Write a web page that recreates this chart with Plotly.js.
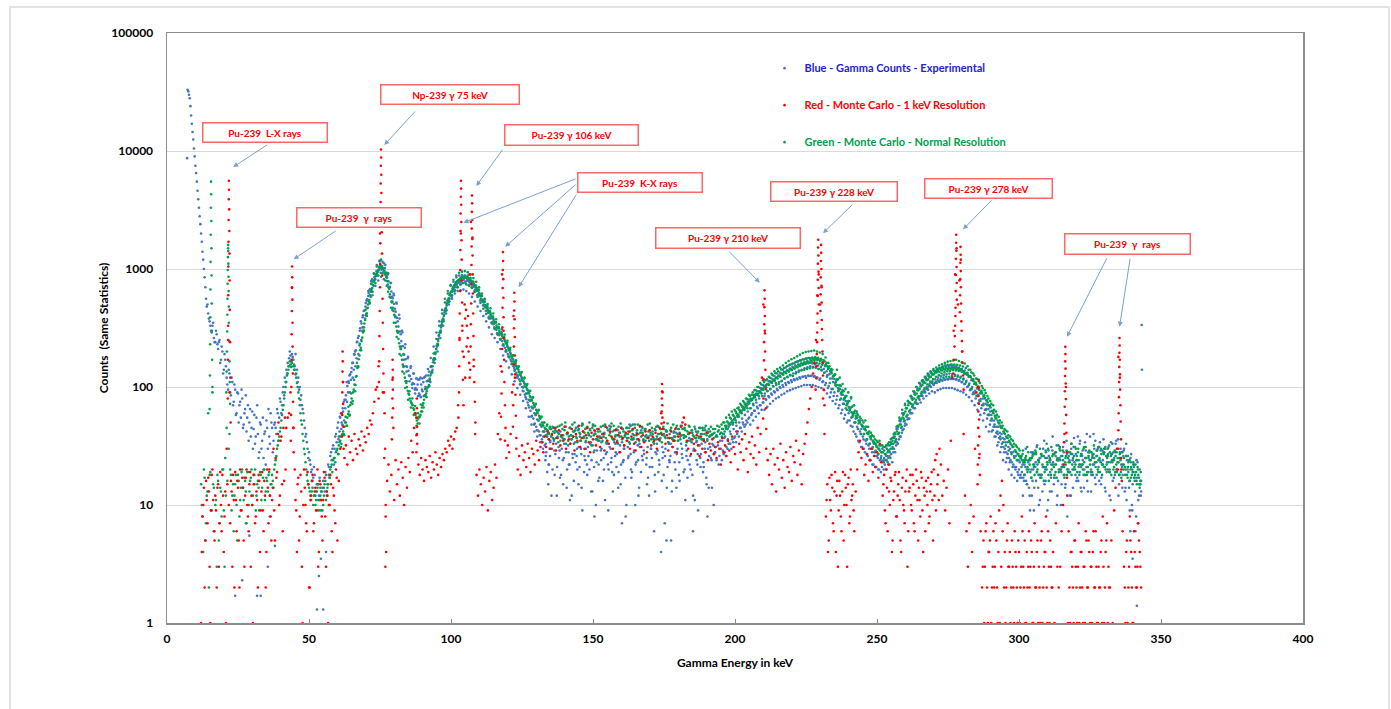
<!DOCTYPE html>
<html>
<head>
<meta charset="utf-8">
<script src="https://cdn.plot.ly/plotly-3.0.1.min.js"></script>
<style>
  html, body { margin:0; padding:0; background:#fff; width:1391px; height:709px; overflow:hidden; }
  #frame { position:absolute; left:9px; top:6px; width:1377px; height:740px; border:2px solid #e2e2e2; }
  #chart { position:absolute; left:0; top:0; width:1391px; height:709px; }
</style>
</head>
<body>
<div id="frame"></div>
<div id="chart"></div>
<script>
// ===================== DATA =====================
// Each row: [start energy keV, counts every 0.5 keV ...]
const STEP = 0.5;

// Blue – gamma counts, experimental
const blueRows = [
  [7.5, 32000,28000,20000,14500,10500,7500,5500,3900,2800,2000,1400,1000,700,480,420],
  [15, 360,300,330,260,240,280],
  [18, 210,250,170,200,140,170,120,95,130,85],
  [23, 110,75,95,60,88,70,55,80,48,65],
  [28, 42,70,50,38,62,44,33,55,40,28],
  [33, 48,35,25,42,52,30,38,60,45,35],
  [38, 50,40,60,55,75,70,100,120,140,160],
  [43, 175,185,190,170,150,130,110,95,78,70],
  [48, 60,45,40,30,28,22,20,17,18,13],
  [53, 15,12,14,11,16,13,18,15,21,26],
  [58, 24,32,30,40,45,38,55,50,62,78],
  [63, 85,102,108,128,145,160,188,205,242,270],
  [68, 315,345,405,445,515,555,625,675,745,785],
  [73, 855,895,945,975,1015,985,1000,955,925,845],
  [78, 785,705,645,565,505,435,385,325,295,245],
  [83, 222,188,172,148,137,124,117,108,106,98],
  [88, 95,115,85,105,92,120,100,112,125,118],
  [93, 150,140,175,190,220,245,290,320,360,400],
  [98, 440,490,520,560,600,640,670,700,730,760],
  [103, 770,790,760,810,780,790,795,770,745,730],
  [108, 705,670,650,610,590,555,530,495,475,445],
  [113, 425,395,380,355,340,315,305,285,275,255],
  [118, 245,225,215,200,190,178,170,158,150,140],
  [123, 132,122,116,106,100,92,86,79,74,67],
  [128, 63,57,54,49,46,43,42,39,36,38],
  [133, 32,28,40,22,35,30,45,18,33,38],
  [138, 25,42,30,15,36,28,40,22,33,12],
  [143, 38,27,45,20,31,35,14,42,26,30],
  [148, 18,40,33,24,47,29,10,36,22,38],
  [153, 30,16,41,27,35,20,44,25,13,34],
  [158, 28,39,19,32,45,23,30,8,37,26],
  [163, 33,17,40,29,22,36,12,31,43,24],
  [168, 27,35,15,38,21,30,42,6,28,33],
  [173, 19,36,4,25,40,30,14,34,23,5],
  [178, 31,38,20,27,44,16,33,25,39,11],
  [183, 29,35,22,41,18,30,37,24,9,32],
  [188, 27,40,21,34,15,30,38,25,33,10],
  [193, 28,24,32,26,30,35,27,38,31,36],
  [198, 33,40,36,44,38,47,42,50,45,54],
  [203, 48,58,52,62,55,66,60,70,63,74],
  [208, 66,80,70,84,74,88,78,93,82,96],
  [213, 86,101,90,104,94,110,98,113,100,118],
  [218, 104,121,108,126,110,130,114,134,116,138],
  [223, 118,140,122,144,120,147,124,150,125,148],
  [228, 124,146,120,142,118,138,112,132,108,126],
  [233, 102,118,96,110,90,102,84,94,78,86],
  [238, 72,80,66,72,60,66,55,60,50,54],
  [243, 46,49,42,44,38,40,35,36,32,33],
  [248, 30,31,28,29,26,27,24,26,23,25],
  [253, 24,26,25,28,27,31,30,35,34,40],
  [258, 38,45,43,51,49,57,54,63,60,69],
  [263, 66,75,72,82,78,88,84,94,90,100],
  [268, 95,106,100,112,104,116,108,120,111,123],
  [273, 113,126,115,128,116,130,117,129,117,127],
  [278, 116,125,114,122,110,118,106,113,101,107],
  [283, 96,100,90,93,84,86,77,79,70,72],
  [288, 64,65,58,58,52,52,46,46,41,40],
  [293, 37,36,33,31,30,28,27,25,24,23],
  [298, 22,21,21,19,20,18,19,17,18,16],
  [303, 19,14,24,12,20,27,16,22,10,25],
  [308, 18,30,15,21,9,26,19,13,23,17],
  [313, 28,12,20,24,15,31,18,22,8,26],
  [318, 19,33,14,23,27,17,21,35,13,24],
  [323, 20,29,16,25,38,18,22,30,15,26],
  [328, 21,34,17,24,28,13,23,31,19,27],
  [333, 16,25,33,20,12,28,22,18,30,14],
  [338, 24,19,9,27,15,21,6,17,11,20],
  [343, 13]
];
// second set of blue channels, offset by 0.25 keV
const blueRowsOffset = [
  [7.25, 33000,30000,24000,17000,12500,9000,6500,4600,3300,2400,1700,1200],
  [13.25, 850,560,500,380,330,290,350,240,300,230],
  [18.25, 240,160,220,130,190,150,105,140,90,120],
  [23.25, 70,105,58,90,50,75,95,45,60,85],
  [28.25, 55,35,65,45,30,58,38,70,25,50],
  [33.25, 30,55,40,22,45,65,33,50,28,48],
  [38.25, 45,65,35,80,60,90,85,110,130,150],
  [43.25, 200,165,180,155,190,140,120,100,85,65],
  [48.25, 52,38,34,25,24,19,16,21,12,15],
  [53.25, 11,17,13,9,14,19,12,22,17,28],
  [58.25, 30,22,38,34,50,42,60,48,75,66],
  [63.25, 110,90,125,115,160,140,200,175,260,225],
  [68.25, 360,300,440,380,540,470,660,580,820,720],
  [73.25, 820,960,880,1050,930,1060,950,1020,880,900],
  [78.25, 700,760,580,620,460,520,360,410,280,300],
  [83.25, 190,215,150,175,125,145,105,130,95,118],
  [88.25, 105,88,120,95,110,85,125,100,135,110],
  [93.25, 135,170,160,210,200,270,260,340,330,430],
  [98.25, 420,520,500,600,580,680,650,740,700,800],
  [103.25, 740,830,760,850,750,820,730,800,700,770],
  [108.25, 650,720,600,660,540,600,490,545,440,490],
  [113.25, 390,440,350,390,320,355,285,320,255,290],
  [118.25, 225,255,200,228,182,205,165,185,145,165],
  [123.25, 120,140,105,122,93,108,82,96,70,84],
  [128.25, 56,66,48,58,43,52,39,47,34,42],
  [133.25, 24,38,15,30,44,20,35,27,12,41],
  [138.25, 29,18,37,25,46,14,32,22,39,27],
  [143.25, 16,34,26,43,21,30,9,37,24,45],
  [148.25, 31,20,38,13,28,42,23,35,17,29],
  [153.25, 40,25,11,33,22,47,30,19,36,26],
  [158.25, 21,43,28,15,34,24,39,10,31,45],
  [163.25, 27,19,36,48,23,32,14,41,26,35],
  [168.25, 44,22,31,12,39,25,34,18,46,29],
  [173.25, 24,37,16,28,7,43,21,33,26,13],
  [178.25, 35,23,41,30,18,38,27,44,20,32],
  [183.25, 17,40,26,34,12,29,42,22,37,25],
  [188.25, 33,19,45,28,36,14,31,24,40,27],
  [193.25, 31,38,22,35,41,29,37,26,44,33],
  [198.25, 42,30,48,37,52,40,58,45,62,50],
  [203.25, 66,48,70,54,76,58,80,63,86,68],
  [208.25, 88,70,95,74,100,79,105,84,112,88],
  [213.25, 112,92,118,96,124,100,130,104,134,108],
  [218.25, 138,110,143,114,148,116,152,118,155,121],
  [223.25, 158,122,160,124,162,125,160,124,158,122],
  [228.25, 155,118,152,115,148,110,142,104,136,98],
  [233.25, 128,90,118,84,108,78,98,70,88,64],
  [238.25, 78,58,70,52,63,47,56,42,50,38],
  [243.25, 44,34,40,31,36,28,33,26,30,24],
  [248.25, 28,22,26,21,25,20,24,21,24,22],
  [253.25, 26,23,29,25,33,28,38,32,44,36],
  [258.25, 51,41,58,47,66,53,74,60,82,67],
  [263.25, 90,73,98,80,106,86,114,92,120,98],
  [268.25, 126,102,131,106,136,110,140,112,143,114],
  [273.25, 145,116,147,117,148,118,148,117,147,116],
  [278.25, 144,113,140,110,135,106,129,100,122,94],
  [283.25, 114,87,106,80,97,73,88,66,80,60],
  [288.25, 72,54,65,48,58,43,52,38,46,34],
  [293.25, 41,31,37,28,34,25,31,23,28,21],
  [298.25, 26,20,24,18,23,17,22,16,21,15],
  [303.25, 23,12,28,16,9,21,31,14,25,18],
  [308.25, 13,26,20,33,11,24,17,29,15,22],
  [313.25, 32,16,25,10,21,28,14,35,19,24],
  [318.25, 12,27,20,31,16,38,22,14,26,18],
  [323.25, 34,21,13,28,19,25,40,17,23,30],
  [328.25, 16,29,22,36,14,26,20,32,11,24],
  [333.25, 28,18,35,23,15,30,21,26,13,33],
  [338.25, 20,14,25,10,22,17,8,23,12,16]
];
// third set of blue channels (offset 0.375 keV) where the band is widest
const blueRowsScatter = [
  [60.375, 36,56,44,66,52,78,75,112,90,134],
  [65.375, 120,190,150,240,190,300,250,390,320,480],
  [70.375, 420,650,510,790,600,920,720,1080,800,1160],
  [75.375, 860,1150,820,1080,720,920,580,760,450,600],
  [80.375, 390,510,290,380,220,290,170,230,135,180],
  [85.375, 112,150,98,130,88,118,84,116,82,118],
  [90.375, 84,122,96,142,112,176,150,220,195,290],
  [95.375, 230,360,300,450,370,560,450,650,530,730],
  [100.375, 560,780,620,850,650,880,660,890,670,880],
  [105.375, 650,880,620,840,580,780,530,700,480,630],
  [110.375, 440,590,400,530,360,470,320,420,280,380],
  [115.375, 260,350,240,315,210,280,185,250,165,220],
  [120.375, 146,196,128,172,112,152,98,134,86,116],
  [125.375, 76,102,66,88,56,76,48,66,42,58],
  [130.375, 38,52,34,46,30,42,26,38,22,34],
  [133.375, 33,19,41,26,12,37,29,45,21,31],
  [138.375, 17,39,24,33,46,20,28,11,36,25],
  [143.375, 42,23,30,15,38,27,48,19,34,22],
  [148.375, 26,44,13,32,21,40,29,16,37,24],
  [153.375, 35,20,46,28,9,31,23,42,18,33],
  [158.375, 27,14,38,22,44,30,17,35,25,48],
  [163.375, 20,36,28,10,41,24,33,19,45,29],
  [168.375, 38,25,17,43,30,21,36,13,27,40],
  [173.375, 22,44,31,18,26,5,37,24,33,16],
  [178.375, 41,28,14,35,23,47,30,19,38,26],
  [183.375, 24,37,20,43,29,11,34,27,45,21],
  [188.375, 36,23,30,17,42,26,39,14,32,28],
  [195.375, 24,40,28,44,30,48,33,50,34,54],
  [200.375, 34,56,38,62,42,68,46,72,50,78],
  [205.375, 48,78,52,86,56,92,60,98,64,104],
  [210.375, 64,104,68,112,72,118,76,124,80,130],
  [215.375, 82,132,86,140,88,146,92,152,94,156],
  [220.375, 96,158,98,164,100,168,102,172,104,174],
  [225.375, 104,176,104,176,104,174,102,172,100,168],
  [230.375, 98,162,94,154,88,146,82,136,76,126],
  [235.375, 72,116,66,104,60,94,54,84,50,76],
  [240.375, 52,80,46,70,40,60,35,52,31,47],
  [245.375, 30,46,27,41,24,36,22,33,21,31],
  [250.375, 20,32,19,30,20,31,20,32,22,34],
  [255.375, 23,38,28,44,33,52,38,60,44,70],
  [260.375, 48,76,54,84,60,92,66,100,72,108],
  [265.375, 74,112,80,120,84,126,88,132,92,138],
  [270.375, 90,138,94,144,96,148,98,152,98,154],
  [275.375, 98,154,98,152,96,150,94,146,92,142],
  [280.375, 90,138,86,132,82,124,76,116,70,106],
  [285.375, 64,98,58,90,52,80,46,70,42,62],
  [290.375, 42,62,38,54,32,46,28,40,24,36],
  [295.375, 23,34,20,30,18,28,17,26,16,24],
  [300.375, 17,26,12,22,30,15,24,9,20,28],
  [305.375, 14,23,32,18,11,27,21,35,16,25],
  [310.375, 29,13,22,38,17,26,10,24,31,19],
  [315.375, 22,34,15,27,20,12,30,24,37,18],
  [320.375, 26,16,33,21,29,14,25,40,19,28],
  [325.375, 13,27,22,35,18,31,24,15,29,21],
  [330.375, 30,19,26,12,34,23,17,28,20,36],
  [335.375, 18,25,14,29,21,11,26,16,23,9],
  [340.375, 19,13,24,7,15,12]
];
// Isolated blue points: [keV, counts]
const blueExtra = [
  [7.1,8700],[24.0,1.7],[26.5,2.3],[31.7,1.7],[33.0,1.7],[35.5,3.0],[29.0,5.5],[27.8,7.0],
  [36.2,8.0],[38.0,4.5],[52.8,1.3],[53.5,2.5],[54.2,3.5],[55.0,1.3],[56.0,4.0],
  [341.5,1.4],[343.2,335],[343.3,140],[340.0,3.5],[339.2,6],[150.5,8],[160.2,7],[185.2,6],[190.3,8]
];

// Green – Monte Carlo, normal resolution
const greenRows = [
  [12, 15,8,20,5,12,60,18,9,100,14],
  [17, 10,3,16,7,13,20,9,25,45,1500],
  [22, 40,18,12,6,15,10,18,8,14,20],
  [27, 11,16,7,19,13,17,10,15,20,12],
  [32, 16,9,18,14,20,11,17,13,19,15],
  [37, 18,14,22,26,32,38,45,58,70,90],
  [42, 110,130,150,155,160,150,140,120,100,80],
  [47, 60,48,35,27,20,16,14,12,13,10],
  [52, 12,11,14,9,12,13,10,15,11,14],
  [57, 18,20,22,24,25,28,30,32,35,39],
  [62, 42,46,50,55,62,70,80,90,105,122],
  [67, 145,172,205,245,290,345,405,465,530,600],
  [72, 665,735,800,870,930,990,1040,1060,1020,960],
  [77, 880,790,700,610,530,470,410,350,300,255],
  [82, 220,185,155,130,112,100,88,80,74,70],
  [87, 64,58,52,54,56,62,70,78,85,92],
  [92, 100,115,130,150,170,195,225,255,290,330],
  [97, 370,410,460,505,550,600,640,680,720,750],
  [102, 780,800,820,835,845,850,850,845,835,820],
  [107, 800,775,750,720,690,655,620,585,550,520],
  [112, 495,470,450,430,410,390,370,350,332,315],
  [117, 300,285,272,260,245,232,218,204,190,177],
  [122, 165,155,150,142,134,126,119,112,106,100],
  [127, 94,88,82,77,73,68,64,60,57,54],
  [132, 50,47,45,44,43,40,44,39,42,41],
  [137, 37,46,40,35,48,39,43,33,41,38],
  [142, 45,36,42,50,38,34,44,40,47,37],
  [147, 41,35,46,39,43,32,48,40,36,44],
  [152, 38,42,34,47,40,37,45,33,41,49],
  [157, 36,43,39,35,46,41,38,44,32,40],
  [162, 45,37,42,36,48,39,34,43,40,46],
  [167, 38,41,35,44,37,42,49,36,40,33],
  [172, 43,38,46,35,41,39,44,37,42,34],
  [177, 40,45,36,42,38,47,35,41,39,44],
  [182, 37,43,34,40,46,36,41,38,44,35],
  [187, 42,37,40,45,36,43,39,41,38,46],
  [192, 40,37,44,39,42,46,41,44,40,47],
  [197, 47,50,49,54,52,57,55,60,58,64],
  [202, 63,68,66,71,69,75,73,80,78,85],
  [207, 82,88,86,92,90,97,95,101,99,106],
  [212, 104,110,108,115,113,120,118,125,122,130],
  [217, 127,134,131,138,135,142,139,146,143,150],
  [222, 147,154,151,158,155,162,158,166,162,170],
  [227, 166,172,168,174,169,172,166,170,162,165],
  [232, 156,150,145,137,131,123,117,110,104,97],
  [237, 96,90,86,80,76,72,68,64,61,58],
  [242, 60,57,55,52,50,48,46,44,43,41],
  [247, 40,38,38,35,34,33,31,30,29,28],
  [252, 28,29,27,30,29,32,33,35,37,40],
  [257, 42,46,48,53,55,60,62,66,70,74],
  [262, 72,78,80,86,88,94,96,102,104,110],
  [267, 108,114,116,121,122,127,128,132,133,137],
  [272, 134,139,138,142,140,144,141,145,142,146],
  [277, 143,145,141,144,139,141,135,136,130,131],
  [282, 127,124,121,116,112,107,104,98,95,90],
  [287, 88,84,81,77,74,70,67,63,60,57],
  [292, 55,52,49,47,45,42,40,38,37,35],
  [297, 33,32,31,29,28,27,26,25,24,23],
  [302, 23,26,21,24,19,25,22,18,27,20],
  [307, 23,17,26,21,19,28,22,16,24,20],
  [312, 27,18,22,25,19,29,21,24,17,26],
  [317, 20,23,28,18,25,21,30,19,24,22],
  [322, 27,20,23,31,19,26,22,28,18,25],
  [327, 21,29,24,19,27,22,30,20,25,23],
  [332, 28,18,24,21,26,19,23,27,17,22],
  [337, 25,20,18,23,16,21,19,17,22,15],
  [342, 18,14,16]
];
// second set of green channels, offset by 0.25 keV
const greenRowsOffset = [
  [12.25, 10,4,17,7,13,2,19,9,15,6],
  [17.25, 11,18,5,14,8,20,3,12,16,30],
  [22.25, 20,9,15,12,18,5,16,11,19,14],
  [27.25, 17,13,19,10,16,20,12,18,9,15],
  [32.25, 14,19,11,17,20,13,16,18,12,15],
  [37.25, 16,20,24,30,35,42,52,64,80,100],
  [42.25, 125,140,165,148,170,140,128,108,90,70],
  [47.25, 52,40,30,23,18,15,13,11,14,12],
  [52.25, 10,13,15,11,9,14,12,16,13,15],
  [57.25, 17,21,19,25,23,29,27,34,31,40],
  [62.25, 40,50,47,59,57,74,72,95,92,124],
  [67.25, 150,185,215,262,300,370,420,500,545,640],
  [72.25, 690,780,820,910,950,1030,1070,1020,1000,910],
  [77.25, 850,740,680,570,520,440,400,325,290,235],
  [82.25, 210,170,148,120,108,93,86,76,72,66],
  [87.25, 60,55,49,56,58,67,73,84,88,99],
  [92.25, 104,125,134,162,175,210,232,275,300,355],
  [97.25, 380,445,470,540,565,625,650,700,730,770],
  [102.25, 790,805,830,860,840,870,845,860,825,830],
  [107.25, 785,780,730,725,670,670,600,590,530,525],
  [112.25, 480,475,435,430,395,395,355,355,320,320],
  [117.25, 290,290,262,265,236,238,210,210,182,185],
  [122.25, 158,160,144,148,128,132,113,118,100,104],
  [127.25, 90,92,78,81,70,71,61,63,55,56],
  [132.25, 48,50,44,47,41,45,38,46,36,43],
  [137.25, 42,34,47,38,44,36,50,40,35,45],
  [142.25, 39,48,33,43,37,46,41,35,49,38],
  [147.25, 44,37,41,50,34,45,39,47,36,42],
  [152.25, 35,46,40,38,48,34,43,39,46,37],
  [157.25, 47,38,44,33,41,49,36,42,38,45],
  [162.25, 40,34,47,43,37,45,39,48,35,41],
  [167.25, 46,36,43,39,48,35,41,45,37,44],
  [172.25, 36,47,40,44,34,46,38,42,49,37],
  [177.25, 43,37,48,35,45,40,44,36,47,39],
  [182.25, 45,38,42,47,35,43,39,46,37,41],
  [187.25, 38,45,36,43,40,47,35,44,42,39],
  [192.25, 44,41,38,47,43,40,48,44,50,45],
  [197.25, 51,46,55,50,58,53,62,57,67,61],
  [202.25, 70,64,74,68,79,72,84,77,90,82],
  [207.25, 94,86,100,91,105,96,110,101,116,106],
  [212.25, 120,110,126,115,131,120,136,124,141,129],
  [217.25, 145,133,150,137,154,141,158,145,162,148],
  [222.25, 165,151,168,154,171,157,174,159,176,161],
  [227.25, 178,160,179,160,177,158,173,154,168,150],
  [232.25, 160,142,150,133,140,124,128,114,116,103],
  [237.25, 102,91,92,82,84,74,76,67,68,61],
  [242.25, 63,55,58,51,54,47,50,44,46,40],
  [247.25, 42,37,39,34,36,32,34,30,32,28],
  [252.25, 31,27,32,28,34,30,37,33,41,36],
  [257.25, 47,41,53,46,59,52,66,58,73,64],
  [262.25, 80,71,87,78,94,84,101,91,109,98],
  [267.25, 117,105,124,111,130,117,136,122,141,126],
  [272.25, 144,130,148,133,151,136,153,137,155,139],
  [277.25, 155,138,154,137,152,135,149,131,145,127],
  [282.25, 140,122,133,116,125,109,117,101,108,93],
  [287.25, 98,85,89,77,80,69,72,62,64,55],
  [292.25, 58,50,52,45,47,41,43,37,39,34],
  [297.25, 36,31,33,29,31,27,29,25,27,24],
  [302.25, 25,20,28,22,17,26,21,29,19,24],
  [307.25, 18,27,22,16,25,20,30,23,18,26],
  [312.25, 21,28,17,24,30,20,26,18,23,29],
  [317.25, 25,19,27,22,31,20,24,28,18,26],
  [322.25, 22,30,18,25,21,29,24,19,27,23],
  [327.25, 26,20,31,23,18,28,21,26,30,19],
  [332.25, 23,27,20,29,22,25,18,24,28,20],
  [337.25, 21,26,17,24,20,18,23,16,19,21],
  [342.25, 17,15]
];
// third set of green channels (offset 0.375 keV) where the band is widest
const greenRowsScatter = [
  [60.375, 27,38,33,47,39,56,47,68,58,88],
  [65.375, 76,115,104,160,148,232,205,320,300,450],
  [70.375, 400,590,520,750,640,910,760,1050,880,1180],
  [75.375, 1200,920,1120,800,930,640,700,470,530,350],
  [80.375, 400,265,295,190,210,135,150,98,112,78],
  [85.375, 92,67,80,58,69,47,60,49,71,62],
  [90.375, 67,96,82,113,102,148,133,192,172,255],
  [95.375, 225,330,290,420,360,520,445,620,530,720],
  [100.375, 600,810,660,880,700,930,740,950,760,960],
  [105.375, 740,940,720,900,690,840,640,780,580,700],
  [110.375, 515,620,460,560,415,505,380,465,345,420],
  [115.375, 310,375,278,340,252,308,230,278,205,246],
  [120.375, 180,215,156,186,137,168,126,150,112,134],
  [125.375, 99,120,88,106,78,93,68,82,60,72],
  [130.375, 53,64,48,56,42,50,39,48,36,46],
  [195.375, 38,50,42,55,44,58,48,62,50,64],
  [200.375, 50,66,56,72,60,76,64,80,66,86],
  [205.375, 66,86,72,94,78,100,84,108,88,114],
  [210.375, 84,114,92,122,96,130,102,136,108,142],
  [215.375, 106,146,112,152,118,160,122,166,126,172],
  [220.375, 124,176,130,182,134,188,138,194,140,198],
  [225.375, 142,200,144,202,146,204,146,200,142,196],
  [230.375, 140,190,132,178,122,160,108,142,96,126],
  [235.375, 104,140,92,120,80,106,72,96,64,90],
  [240.375, 66,82,56,70,50,62,44,56,40,52],
  [245.375, 40,52,36,46,33,41,30,38,28,35],
  [250.375, 27,35,25,32,23,31,24,33,26,36],
  [255.375, 30,40,34,46,40,55,48,64,54,72],
  [260.375, 56,76,62,84,68,92,74,100,82,108],
  [265.375, 84,114,90,122,96,130,102,136,108,142],
  [270.375, 108,146,114,152,116,156,120,160,122,164],
  [275.375, 122,166,124,168,124,170,122,166,120,162],
  [280.375, 116,158,110,150,104,140,96,130,88,118],
  [285.375, 84,112,76,102,70,94,64,84,58,76],
  [290.375, 54,70,48,62,42,56,38,50,34,44],
  [295.375, 32,42,29,38,27,35,25,32,24,30],
  [300.375, 26,21,29,18,24,31,20,25,17,27],
  [305.375, 22,28,19,24,30,17,26,21,29,23],
  [310.375, 18,25,31,22,27,19,24,32,20,26],
  [315.375, 29,21,25,18,28,23,33,20,26,22],
  [320.375, 24,30,19,27,22,31,25,18,28,24],
  [325.375, 20,26,32,23,29,19,25,30,22,27],
  [330.375, 31,22,27,20,26,33,24,19,28,23],
  [335.375, 25,19,28,22,18,26,21,24,17,20],
  [340.375, 22,18,16,20,15,19]
];
// green narrow lines: [keV, counts]
const greenPeaks = [
  [[15.50,5500],[15.55,4300],[15.45,3300],[15.60,2550],[15.40,1950],[15.65,1500],[15.35,1150],[15.70,880],
   [15.30,670],[15.75,510],[15.25,390],[15.80,300],[15.20,230],[15.90,170],[15.10,125],[16.00,90],[15.00,65]],
  [[21.50,1600],[21.55,1420],[21.45,1260],[21.60,1110],[21.40,980],[21.65,860],[21.35,750],[21.70,650],
   [21.30,560],[21.75,480],[21.25,410],[21.80,350],[21.20,295],[21.90,245],[21.10,200],[22.00,165],
   [21.00,135],[22.10,110],[20.90,90],[22.20,72]]
];

// Red – Monte Carlo, 1 keV resolution
const redRows = [
  [12, 1,8,14,5,11,17,3,9,20,6],
  [17, 12,2,15,7,10,18,4,13,30,250],
  [22, 90,16,3,11,19,6,14,2,9,17],
  [27, 5,12,20,8,15,3,10,18,7,13],
  [32, 2,16,9,19,6,12,4,14,20,8],
  [37, 11,30,5,17,40,10,35,15,45,55],
  [42, 45,55,60,90,700,45,20,9,15,5],
  [47, 18,3,10,14,7,19,2,11,16,6],
  [52, 13,9,20,4,15,8,11,17,3,12],
  [57, 10,18,6,14,9,20,5,16,30,60],
  [62, 110,25,32,22,38,28,35,24,40,30],
  [67, 27,36,32,42,29,38,34,45,40,52],
  [72, 48,60,75,95,100,150,2000,3000,90,25],
  [77, 8,16,22,13,18,120,11,24,15,20],
  [82, 12,23,17,10,21,14,25,19,35,28],
  [87, 45,60,40,22,18,25,20,16,24,21],
  [92, 19,26,17,23,20,28,22,18,25,21],
  [97, 27,24,30,28,35,32,38,30,36,42],
  [102, 45,70,250,2000,300,180,120,220,400,900],
  [107, 2500,1800,150,40,18,12,20,15,10,17],
  [112, 13,21,9,16,19,11,14,22,17,40],
  [117, 60,150,900,300,35,25,32,28,40,90],
  [122, 400,120,30,20,26,18,32,24,28,21],
  [127, 33,25,19,30,27,22,35,29,24,31],
  [132, 34,28,38,31,42,36,30,40,33,45],
  [137, 29,37,43,32,39,35,46,30,41,36],
  [142, 33,44,38,29,40,35,47,31,37,42],
  [147, 30,39,45,34,28,41,36,43,32,38],
  [152, 44,31,37,40,29,46,35,33,42,38],
  [157, 30,36,43,34,39,28,45,37,32,41],
  [162, 35,42,30,38,44,33,29,40,36,47],
  [167, 31,39,34,42,28,37,43,32,38,35],
  [172, 41,30,36,45,60,90,50,33,39,29],
  [177, 37,42,31,35,44,28,38,40,46,50],
  [182, 55,48,35,30,41,27,36,33,29,39],
  [187, 32,26,38,30,35,28,41,24,33,29],
  [192, 36,27,31,25,34,30,22,37,28,32],
  [197, 26,35,29,23,38,31,27,42,20,33],
  [202, 28,36,24,40,30,19,34,27,38,25],
  [207, 32,22,45,28,40,120,500,300,30,24],
  [212, 18,27,15,30,22,13,25,20,33,17],
  [217, 24,14,28,21,19,31,16,26,23,35],
  [222, 18,29,22,15,27,33,40,50,65,80],
  [227, 100,130,160,250,600,900,500,700,80,40],
  [232, 8,15,5,11,18,7,13,4,16,9],
  [237, 12,6,19,10,14,3,17,8,11,15],
  [242, 6,13,20,28,35,25,30,18,22,27],
  [247, 16,24,30,19,26,21,28,17,33,23],
  [252, 12,18,7,14,22,10,16,5,13,19],
  [257, 8,15,11,4,17,9,13,20,6,14],
  [262, 10,18,7,12,16,5,11,19,9,14],
  [267, 6,13,17,8,15,11,20,24,27,18],
  [272, 30,22,12,16,9,14,20,7,35,120],
  [277, 300,900,1500,500,800,1200,200,40,12,6],
  [282, 3,7,10,4,8,30,90,100,25,6],
  [287, 2,5,3,7,1,4,8,2,6,3],
  [292, 5,1,9,12,16,10,4,2,7,3],
  [297, 1,5,2,6,3,1,4,2,8,3],
  [302, 5,1,2,6,3,4,1,7,2,5],
  [307, 3,1,6,2,4,8,1,3,5,2],
  [312, 4,1,7,3,2,3,6,10,40,100],
  [317, 12,6,1,4,2,5,3,1,7,2],
  [322, 4,1,3,6,2,5,1,3,4,2],
  [327, 6,1,3,2,5,8,1,4,7,3],
  [332, 2,5,1,9,14,30,180,120,20,6],
  [337, 3,1,5,2,8,4,1,6,3,2],
  [342, 7,4,2]
];
// second set of red channels, offset by 0.25 keV
const redRowsOffset = [
  [12.25, 4,10,2,16,7,13,1,18,11,5],
  [17.25, 9,14,3,19,6,12,8,1,15,10],
  [22.25, 7,13,18,2,11,16,5,20,9,14],
  [27.25, 3,17,10,6,19,12,1,15,8,11],
  [32.25, 18,4,13,9,16,2,20,7,12,5],
  [37.25, 14,9,25,19,50,12,38,6,16,20],
  [45.25, 11,4,17,8,13,1,20,10,6,15],
  [50.25, 2,12,18,7,14,9,3,16,11,5],
  [55.25, 19,8,13,1,10,15,4,12,7,17],
  [232.25, 11,4,17,9,14,6,19,12,3,16],
  [237.25, 8,13,5,18,10,15,7,20,12,9],
  [252.25, 15,9,20,6,13,17,4,11,18,8],
  [257.25, 12,19,5,14,10,7,16,3,13,18],
  [262.25, 9,15,6,20,11,14,8,17,4,12],
  [267.25, 16,10,7,13,19,5,12,9,15,11],
  [287.25, 3,1,6,2,4,5,1,3,2,7],
  [292.25, 2,4,1,3,6,2,1,5,3,4],
  [297.25, 2,3,1,4,2,5,1,3,6,2],
  [302.25, 1,4,3,2,5,1,3,2,4,1],
  [307.25, 2,5,1,3,4,2,6,1,3,2],
  [317.25, 1,2,4,3,1,5,2,3,1,4],
  [322.25, 2,3,1,5,2,4,3,1,6,2],
  [327.25, 3,1,2,4,1,3,2,5,1,2],
  [337.25, 2,4,1,3,5,2,1,4,2,3],
  [342.25, 5,3]
];
// red narrow lines: [keV, counts]
const redPeaks = [
  [[21.80,5600],[21.85,4700],[21.75,3900],[21.90,3200],[21.70,2600],[21.95,2100],[21.65,1700],[22.00,1350],
   [21.60,1050],[22.05,800],[21.55,600],[22.10,450],[21.50,330],[22.20,240],[21.45,170],[22.30,120],[21.40,80],[22.40,50]],
  [[44.05,1050],[44.10,850],[44.00,690],[44.15,550],[43.95,440],[44.20,350],[43.90,280],[44.25,220],
   [43.85,170],[44.30,130],[43.80,100],[44.40,75],[43.70,58],[44.50,45],[43.60,35],[44.60,28]],
  [[61.85,200],[61.90,165],[61.80,135],[61.95,110],[61.75,90],[62.00,72],[61.70,58],[62.10,46],[61.60,38],[62.20,30]],
  [[75.35,10300],[75.40,8800],[75.30,7500],[75.45,6300],[75.25,5300],[75.50,4400],[75.20,3700],[75.55,3000],
   [75.15,2500],[75.60,2050],[75.10,1650],[75.70,1350],[75.05,1100],[75.80,880],[75.00,700],[75.90,560],
   [74.90,440],[76.00,350],[74.80,270],[76.10,210],[74.70,165],[76.20,130],[74.60,110],[76.40,90],
   [74.50,80],[76.60,60],[76.80,30],[77.00,10],[77.20,4],[76.90,3]],
  [[79.45,170],[79.50,140],[79.40,115],[79.55,95],[79.35,80],[79.60,66],[79.30,55],[79.70,45],[79.20,36]],
  [[87.95,80],[88.00,66],[87.90,55],[88.05,46],[87.85,39],[88.10,33],[87.80,28]],
  [[103.50,5600],[103.55,4800],[103.45,4100],[103.60,3500],[103.40,2950],[103.65,2500],[103.35,2100],[103.70,1750],
   [103.30,1450],[103.75,1200],[103.25,980],[103.80,800],[103.20,650],[103.90,520],[103.10,420],[104.00,330],
   [103.00,260],[104.10,200],[102.90,150],[104.20,115],[102.80,90],[104.40,70],[102.60,55],[104.80,500],[105.00,380]],
  [[107.40,4200],[107.45,3600],[107.35,3050],[107.50,2600],[107.30,2200],[107.55,1850],[107.25,1550],[107.60,1300],
   [107.20,1080],[107.65,900],[107.15,750],[107.70,620],[107.10,510],[107.80,420],[107.00,340],[107.90,270],
   [106.90,220],[108.00,170],[106.80,140],[108.20,110],[106.60,120],[108.40,75],[106.40,160],[108.60,50],
   [106.20,200],[105.90,260],[105.60,330],[105.30,450]],
  [[118.30,1390],[118.35,1170],[118.25,980],[118.40,820],[118.20,690],[118.45,570],[118.15,470],[118.50,390],
   [118.10,320],[118.60,260],[118.00,210],[118.70,170],[117.90,135],[118.80,110],[117.80,88],[119.00,70],
   [117.60,56],[119.20,45],[117.40,36]],
  [[122.30,630],[122.35,530],[122.25,445],[122.40,375],[122.20,315],[122.45,265],[122.15,220],[122.50,185],
   [122.10,155],[122.60,128],[122.00,105],[122.70,86],[121.90,70],[122.80,57],[121.80,46],[123.00,37]],
  [[174.30,106],[174.35,92],[174.25,80],[174.40,70],[174.20,62],[174.45,55],[174.15,49],[174.50,44],[174.10,40]],
  [[210.40,660],[210.45,560],[210.35,475],[210.50,400],[210.30,340],[210.55,285],[210.25,240],[210.60,200],
   [210.20,168],[210.70,140],[210.10,116],[210.80,96],[210.00,80],[210.90,66],[209.90,54],[211.00,44]],
  [[229.30,1770],[229.25,1520],[229.35,1300],[229.20,1110],[229.40,950],[229.15,810],[229.45,690],[229.10,590],
   [229.50,500],[229.05,420],[229.00,350],[228.95,290],[228.90,240],[228.80,190],[228.70,150],[228.60,120],[228.40,95],
   [230.30,1600],[230.35,1370],[230.25,1170],[230.40,1000],[230.20,850],[230.45,720],[230.15,610],[230.50,520],
   [230.10,440],[230.55,370],[230.60,310],[230.70,250],[230.80,200],[230.90,160],[231.00,125],[231.20,95],[231.50,70]],
  [[277.90,1950],[277.85,1670],[277.95,1430],[277.80,1220],[278.00,1040],[277.75,890],[278.05,760],[277.70,650],
   [278.10,550],[277.65,470],[277.60,400],[277.50,330],[277.40,270],[277.30,220],[277.10,170],[276.90,130],
   [279.40,1540],[279.45,1320],[279.35,1130],[279.50,960],[279.30,820],[279.55,700],[279.25,600],[279.60,510],
   [279.20,430],[279.70,360],[279.80,300],[279.90,245],[280.00,200],[280.10,160],[280.30,125],[280.50,95]],
  [[285.80,115],[285.85,98],[285.75,84],[285.90,72],[285.70,62],[285.95,53],[285.65,45],[286.00,38],
   [285.60,32],[286.10,27],[285.50,22],[286.20,18],[285.40,15]],
  [[316.30,219],[316.35,190],[316.25,165],[316.40,143],[316.20,124],[316.45,107],[316.15,92],[316.50,79],
   [316.10,68],[316.60,58],[316.00,49],[316.70,41],[315.90,34],[316.80,28],[315.80,22],[316.90,17]],
  [[335.40,260],[335.45,225],[335.35,195],[335.50,170],[335.30,148],[335.55,128],[335.25,110],[335.60,95],
   [335.20,82],[335.70,70],[335.10,60],[335.80,51],[335.00,43],[335.90,36],[334.90,30],[336.00,25],[334.80,20],[336.20,16]]
];

// Axis ticks
const xTicks = [0, 50, 100, 150, 200, 250, 300, 350, 400];
const yTicks = [1, 10, 100, 1000, 10000, 100000];
const yTickText = ['1', '10', '100', '1000', '10000', '100000'];

// Legend / series labels
const seriesNames = {
  blue: 'Blue - Gamma Counts - Experimental',
  red: 'Red - Monte Carlo - 1 keV Resolution',
  green: 'Green - Monte Carlo - Normal Resolution'
};

// Annotation labels
const labelTexts = [
  'Pu-239\u00a0\u00a0L-X rays', 'Np-239 \u03b3 75 keV', 'Pu-239\u00a0\u00a0\u03b3\u00a0\u00a0rays',
  'Pu-239 \u03b3 106 keV', 'Pu-239\u00a0\u00a0K-X rays', 'Pu-239 \u03b3 210 keV',
  'Pu-239 \u03b3 228 keV', 'Pu-239 \u03b3 278 keV', 'Pu-239\u00a0\u00a0\u03b3\u00a0\u00a0rays'
];

// ===================== BUILD =====================
function fromRows(rows, step, x, y) {
  rows.forEach(r => { for (let i = 1; i < r.length; i++) { x.push(r[0] + (i - 1) * step); y.push(r[i]); } });
}
function fromPairs(list, x, y) { list.forEach(p => { x.push(p[0]); y.push(p[1]); }); }

const bx = [], by = [];
fromRows(blueRows, STEP, bx, by); fromRows(blueRowsOffset, STEP, bx, by);
fromRows(blueRowsScatter, STEP, bx, by); fromPairs(blueExtra, bx, by);
const gx = [], gy = [];
fromRows(greenRows, STEP, gx, gy); fromRows(greenRowsOffset, STEP, gx, gy);
fromRows(greenRowsScatter, STEP, gx, gy);
greenPeaks.forEach(pk => fromPairs(pk, gx, gy));
const rx = [], ry = [];
fromRows(redRows, STEP, rx, ry); fromRows(redRowsOffset, STEP, rx, ry);
redPeaks.forEach(pk => fromPairs(pk, rx, ry));

const FONT = 'Lato, "Open Sans", "Liberation Sans", sans-serif';
const BLUE = '#4472c4', RED = '#ff0000', GREEN = '#00a04c';

const traces = [
  { type:'scatter', mode:'markers', x:bx, y:by, cliponaxis:false, hoverinfo:'skip',
    marker:{ size:2.6, color:BLUE }, legendgroup:'b', legendrank:1,
    name:'<span style="color:#2323d2">' + seriesNames.blue + '</span>' },
  { type:'scatter', mode:'markers', x:gx, y:gy, cliponaxis:false, hoverinfo:'skip',
    marker:{ size:2.6, color:GREEN }, legendgroup:'g', legendrank:3,
    name:'<span style="color:#00a04c">' + seriesNames.green + '</span>' },
  { type:'scatter', mode:'markers', x:rx, y:ry, cliponaxis:false, hoverinfo:'skip',
    marker:{ size:2.6, color:RED }, legendgroup:'r', legendrank:2,
    name:'<span style="color:#ff0000">' + seriesNames.red + '</span>' }
];

// label boxes: centre (keV, log10 counts) and pixel size
const boxes = [
  [34.6, 4.157, 126, 21], [99.75, 4.479, 140, 21], [67.7, 3.436, 126, 21],
  [142.6, 4.136, 135, 22], [166.7, 3.731, 126, 21], [197.6, 3.263, 146, 22],
  [235.0, 3.655, 128, 21], [289.4, 3.682, 129, 21], [338.1, 3.212, 127, 22]
];
// arrows: tail (keV, log10) -> head (keV, log10)
const arrows = [
  [35.7, 4.059, 23.3, 3.864], [87.8, 4.347, 76.5, 4.051], [59.9, 3.331, 44.6, 3.082],
  [118.5, 4.023, 108.9, 3.703], [144.4, 3.769, 104.4, 3.392], [144.4, 3.726, 119.1, 3.189],
  [144.4, 3.641, 123.8, 2.845], [197.4, 3.161, 208.7, 2.884], [241.8, 3.557, 231.0, 3.303],
  [290.8, 3.593, 280.3, 3.336], [331.2, 3.104, 316.9, 2.426], [339.2, 3.099, 335.4, 2.511]
];

const annotations = [];
arrows.forEach(a => annotations.push({
  xref:'x', yref:'y', axref:'x', ayref:'y', x:a[2], y:a[3], ax:a[0], ay:a[1],
  text:'', showarrow:true, arrowhead:2, arrowsize:1, arrowwidth:1, arrowcolor:'#7b9fd6', standoff:0
}));
boxes.forEach((b, i) => annotations.push({
  xref:'x', yref:'y', x:b[0], y:b[1], xanchor:'center', yanchor:'middle',
  text:labelTexts[i], showarrow:false, bgcolor:'#ffffff', bordercolor:'#ff6666', borderwidth:1.5, borderpad:0,
  width:b[2] - 3, height:b[3] - 3, align:'center', valign:'middle',
  font:{ family:FONT, size:10, color:'#ff0000', weight:'bold' }
}));

const axisFont = { family:FONT, size:12, color:'#000000', weight:'bold' };
const layout = {
  width:1391, height:709,
  margin:{ l:167, r:88, t:33, b:86, autoexpand:false },
  paper_bgcolor:'rgba(0,0,0,0)', plot_bgcolor:'#ffffff',
  showlegend:true,
  legend:{ x:0.526, y:0.965, xanchor:'left', yanchor:'top', bgcolor:'rgba(0,0,0,0)',
           font:{ family:FONT, size:11, weight:'bold' }, traceorder:'grouped', tracegroupgap:18,
           itemsizing:'trace', itemclick:false },
  xaxis:{ range:[0,400], tickvals:xTicks, showgrid:false, zeroline:false, showline:true,
          linecolor:'#8c8c8c', linewidth:1.5, mirror:true, ticks:'inside', ticklen:4, tickcolor:'#8c8c8c',
          tickfont:axisFont, ticklabelstandoff:4, automargin:false,
          title:{ text:'Gamma Energy in keV', font:axisFont, standoff:13 } },
  yaxis:{ type:'log', range:[0,5], tickvals:yTicks, ticktext:yTickText, showgrid:true,
          gridcolor:'#d9d9d9', gridwidth:1, zeroline:false, showline:true, linecolor:'#8c8c8c',
          linewidth:1.5, mirror:true, ticks:'', tickfont:axisFont, ticklabelstandoff:10, automargin:false,
          title:{ text:'Counts\u00a0\u00a0(Same Statistics)', font:axisFont, standoff:0 } },
  annotations:annotations
};

Plotly.newPlot('chart', traces, layout, { staticPlot:true, displayModeBar:false });
</script>
</body>
</html>
